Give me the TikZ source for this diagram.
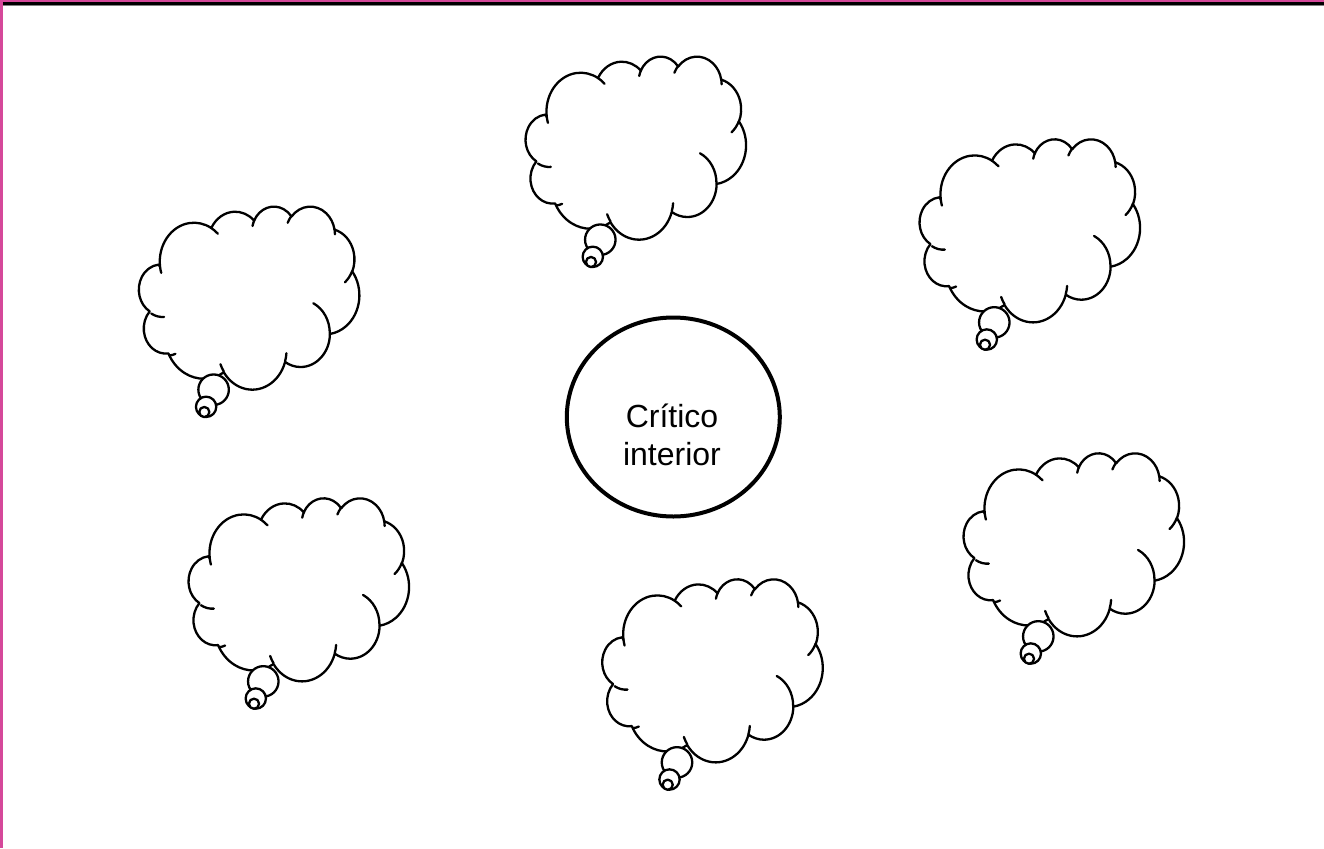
\documentclass[tikz,border=0pt]{standalone}
\usepackage{fontspec}
\setmainfont{Liberation Sans}
\usetikzlibrary{shapes.geometric}
\definecolor{framepink}{RGB}{213,72,154}
% elliptical arc given by DrawingML-style visual start angle and sweep
\newcommand\cloudarc[4]{arc[x radius=#1, y radius=#2, start angle={atan2(#1*sin(#3),#2*cos(#3))}, delta angle={mod(atan2(#1*sin(#3+#4),#2*cos(#3+#4))-atan2(#1*sin(#3),#2*cos(#3))+720,360)}]}
\tikzset{
  cloudline/.style={line width=1.15pt, line join=round, line cap=round},
  pics/thought/.style={code={
    \begin{scope}[x=0.25347pt, y=-0.21181pt]
      \filldraw[cloudline, fill=white] (39.00,143.70)
        \cloudarc{67.53}{91.90}{-190.4875}{123.7805}
        \cloudarc{53.33}{72.67}{-144.1024}{89.9452}
        \cloudarc{43.65}{59.45}{-145.8079}{99.7230}
        \cloudarc{48.57}{65.95}{-130.9861}{117.2417}
        \cloudarc{53.33}{72.73}{-78.7089}{109.0269}
        \cloudarc{67.75}{92.20}{-46.2673}{130.2690}
        \cloudarc{57.85}{78.67}{0.6250}{114.0333}
        \cloudarc{67.52}{92.15}{22.4516}{115.1726}
        \cloudarc{77.20}{105.43}{66.2426}{80.4426}
        \cloudarc{43.60}{59.18}{-274.9421}{146.7356}
        \cloudarc{43.45}{59.45}{-246.8285}{152.5189}
        -- cycle;
    \end{scope}
    \begin{scope}[x=0.5pt, y=-0.5pt]
      \filldraw[cloudline, fill=white] (73.3,183.7) circle[radius=15.25];
      \filldraw[cloudline, fill=white] (65.8,200.8) circle[radius=10.17];
      \filldraw[cloudline, fill=white] (64,206) circle[radius=5.08];
    \end{scope}
    \begin{scope}[x=0.25347pt, y=-0.21181pt]
      \draw[cloudline] (46.93,261.77) \cloudarc{43.45}{59.45}{86.7420}{26.4295};
      \draw[cloudline] (69.28,348.99) \cloudarc{43.60}{59.18}{73.6105}{11.4475};
      \draw[cloudline] (164.78,390.90) \cloudarc{67.52}{92.15}{137.6242}{14.0811};
      \draw[cloudline] (288.27,347.51) \cloudarc{67.52}{92.15}{6.4533}{15.9984};
      \draw[cloudline] (341.29,229.54) \cloudarc{57.85}{78.67}{-70.2924}{70.9174};
      \draw[cloudline] (417.98,153.54) \cloudarc{53.33}{72.73}{30.3180}{27.7515};
      \draw[cloudline] (383.24,54.26) \cloudarc{48.57}{65.95}{-13.7443}{14.8589};
      \draw[cloudline] (290.78,39.52) \cloudarc{48.57}{65.95}{-149.1815}{18.1954};
      \draw[cloudline] (221.41,47.20) \cloudarc{43.65}{59.45}{-163.4943}{17.6864};
      \draw[cloudline] (140.00,51.92) \cloudarc{67.53}{91.90}{-66.7070}{12.3194};
      \draw[cloudline] (41.27,157.89) \cloudarc{67.53}{91.90}{157.6544}{11.8582};
    \end{scope}
  }},
  critic/.style={ellipse, draw, line width=2pt, minimum width=106.5pt, minimum height=99.5pt, inner sep=0pt},
  critictext/.style={anchor=base, inner sep=0pt, font=\fontsize{16}{19}\selectfont}
}
\begin{document}
\begin{tikzpicture}[x=0.5pt, y=-0.5pt]
  \useasboundingbox (0,0) rectangle (1324,848);
  \fill[white] (0,0) rectangle (1324,848);
  % frame
  \fill[framepink] (0,0) rectangle (1324,2);
  \fill[black] (3,2) rectangle (1324,4.8);
  \draw[gray, line width=0.4pt] (3,5.3) -- (1324,5.3);
  \fill[framepink] (0,0) rectangle (3.3,848);
  % thought clouds
  \pic (cloudtop) at (527,56) {thought};
  \pic (cloudul) at (140.3,206) {thought};
  \pic (cloudur) at (921,138.7) {thought};
  \pic (cloudlr) at (965,452.7) {thought};
  \pic (cloudbot) at (603.7,578.7) {thought};
  \pic (cloudll) at (190,497.7) {thought};
  % centre
  \node[critic] (critic) at (673.3,417) {};
  \node[critictext] (crit1) at (672,427.3) {Crítico};
  \node[critictext] (crit2) at (672,465.3) {interior};
\end{tikzpicture}
\end{document}
